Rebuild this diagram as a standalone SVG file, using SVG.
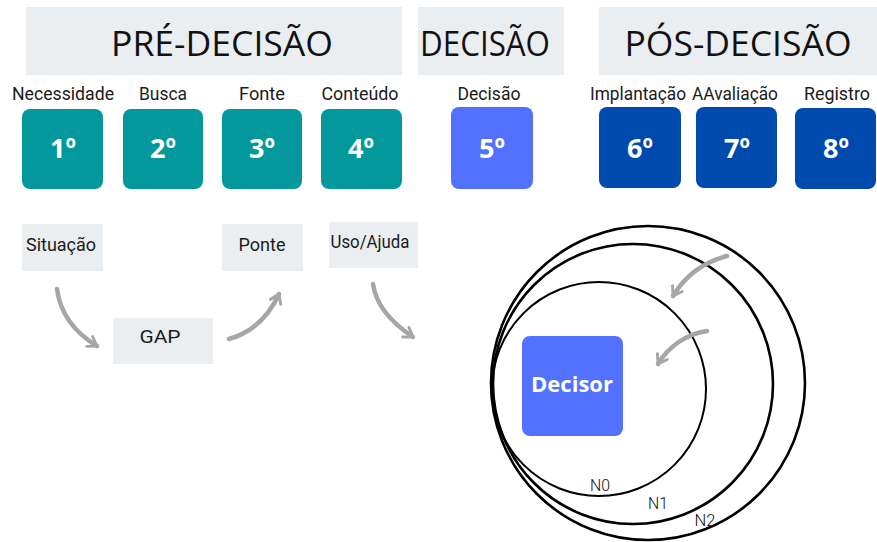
<svg xmlns="http://www.w3.org/2000/svg" width="877" height="542" viewBox="0 0 877 542">
  <style>
    .band { fill: #ebeef1; }
    .title { font-family: "Open Sans", "DejaVu Sans", sans-serif; font-size: 34px; fill: #111; text-anchor: middle; }
    .lbl { font-family: Roboto, "Liberation Sans", sans-serif; font-size: 18.5px; fill: #1a1a1a; text-anchor: middle; }
    .num { font-family: "Open Sans", "DejaVu Sans", sans-serif; font-weight: bold; font-size: 27px; fill: #fff; text-anchor: middle; }
    .teal { fill: #03999c; }
    .light { fill: #5271ff; }
    .dark { fill: #004aad; }
    .tag { fill: #ebeef1; }
    .flow { fill: none; stroke: #a6a6a6; stroke-width: 4.5; stroke-linecap: round; }
    .ring { fill: none; stroke: #000; }
    .nlbl { font-family: Roboto, "Liberation Sans", sans-serif; font-weight: 300; font-size: 17px; fill: #111; text-anchor: middle; }
  </style>
  <defs>
    <marker id="head" viewBox="0 0 10 10" refX="8" refY="5" markerWidth="3.2" markerHeight="3.2" orient="auto" markerUnits="strokeWidth">
      <polyline points="2,1 8,5 2,9" fill="none" stroke="#a6a6a6" stroke-width="2" stroke-linecap="round" stroke-linejoin="round"/>
    </marker>
  </defs>

  <!-- phase headers -->
  <g id="pre-decisao">
    <rect class="band" x="26" y="7" width="376" height="68"/>
    <text class="title" x="222" y="56" textLength="222" lengthAdjust="spacingAndGlyphs">PRÉ-DECISÃO</text>
  </g>
  <g id="decisao">
    <rect class="band" x="418" y="7" width="146" height="68"/>
    <text class="title" x="485" y="56" textLength="130" lengthAdjust="spacingAndGlyphs">DECISÃO</text>
  </g>
  <g id="pos-decisao">
    <rect class="band" x="599" y="7" width="278" height="68"/>
    <text class="title" x="738" y="56" textLength="227" lengthAdjust="spacingAndGlyphs">PÓS-DECISÃO</text>
  </g>

  <!-- steps -->
  <g id="step1">
    <text class="lbl" x="63" y="100" textLength="102" lengthAdjust="spacingAndGlyphs">Necessidade</text>
    <rect class="teal" x="22" y="109" width="81" height="80" rx="8"/>
    <text class="num" x="63" y="158">1º</text>
  </g>
  <g id="step2">
    <text class="lbl" x="163" y="100" textLength="48" lengthAdjust="spacingAndGlyphs">Busca</text>
    <rect class="teal" x="123" y="109" width="80" height="80" rx="8"/>
    <text class="num" x="163" y="158">2º</text>
  </g>
  <g id="step3">
    <text class="lbl" x="262" y="100" textLength="46" lengthAdjust="spacingAndGlyphs">Fonte</text>
    <rect class="teal" x="222" y="109" width="80" height="80" rx="8"/>
    <text class="num" x="262" y="158">3º</text>
  </g>
  <g id="step4">
    <text class="lbl" x="360" y="100" textLength="77" lengthAdjust="spacingAndGlyphs">Conteúdo</text>
    <rect class="teal" x="321" y="109" width="81" height="80" rx="8"/>
    <text class="num" x="361" y="158">4º</text>
  </g>
  <g id="step5">
    <text class="lbl" x="489" y="100" textLength="63" lengthAdjust="spacingAndGlyphs">Decisão</text>
    <rect class="light" x="451" y="107" width="82" height="82" rx="8"/>
    <text class="num" x="492" y="158">5º</text>
  </g>
  <g id="step6">
    <text class="lbl" x="638" y="100" textLength="96" lengthAdjust="spacingAndGlyphs">Implantação</text>
    <rect class="dark" x="599" y="107" width="82" height="81" rx="8"/>
    <text class="num" x="640" y="158">6º</text>
  </g>
  <g id="step7">
    <text class="lbl" x="735" y="100" textLength="86" lengthAdjust="spacingAndGlyphs">AAvaliação</text>
    <rect class="dark" x="696" y="107" width="81" height="81" rx="8"/>
    <text class="num" x="737" y="158">7º</text>
  </g>
  <g id="step8">
    <text class="lbl" x="837" y="100" textLength="66" lengthAdjust="spacingAndGlyphs">Registro</text>
    <rect class="dark" x="795" y="108" width="81" height="81" rx="8"/>
    <text class="num" x="836" y="158">8º</text>
  </g>

  <!-- gap model tags -->
  <g id="situacao">
    <rect class="tag" x="22" y="224" width="81" height="47"/>
    <text class="lbl" x="61" y="251" textLength="70" lengthAdjust="spacingAndGlyphs">Situação</text>
  </g>
  <g id="gap">
    <rect class="tag" x="113" y="318" width="100" height="46"/>
    <text class="lbl" x="160" y="343" font-size="21" textLength="41" lengthAdjust="spacingAndGlyphs">GAP</text>
  </g>
  <g id="ponte">
    <rect class="tag" x="222" y="224" width="81" height="47"/>
    <text class="lbl" x="262" y="251" textLength="47" lengthAdjust="spacingAndGlyphs">Ponte</text>
  </g>
  <g id="uso-ajuda">
    <rect class="tag" x="329" y="222" width="89" height="46"/>
    <text class="lbl" x="370" y="248" textLength="79" lengthAdjust="spacingAndGlyphs">Uso/Ajuda</text>
  </g>

  <!-- nested levels around the decision maker -->
  <g id="levels">
    <circle id="n2" class="ring" cx="648" cy="383" r="157" stroke-width="2.6"/>
    <circle id="n1" class="ring" cx="633" cy="384" r="140" stroke-width="2.6"/>
    <circle id="n0" class="ring" cx="599" cy="389" r="107" stroke-width="2"/>
    <text class="nlbl" x="600" y="491" textLength="20" lengthAdjust="spacingAndGlyphs">N0</text>
    <text class="nlbl" x="658" y="509" textLength="20" lengthAdjust="spacingAndGlyphs">N1</text>
    <text class="nlbl" x="705" y="526" textLength="21" lengthAdjust="spacingAndGlyphs">N2</text>
  </g>
  <g id="decisor">
    <rect class="light" x="522" y="336" width="101" height="100" rx="8"/>
    <text x="572" y="392" font-family="'Open Sans', 'DejaVu Sans', sans-serif" font-weight="bold" font-size="22" fill="#fff" text-anchor="middle" textLength="82" lengthAdjust="spacingAndGlyphs">Decisor</text>
  </g>

  <!-- connectors -->
  <g id="connectors">
    <path class="flow" d="M57,289 C60,312 74,332 97,346" marker-end="url(#head)"/>
    <path class="flow" d="M229,339 C250,333 268,318 279,294" marker-end="url(#head)"/>
    <path class="flow" d="M373,284 C376,305 392,323 413,337" marker-end="url(#head)"/>
    <path class="flow" d="M727,256 C704,262 685,276 673,296" marker-end="url(#head)"/>
    <path class="flow" d="M707,331 C686,334 668,347 658,364" marker-end="url(#head)"/>
  </g>
</svg>
